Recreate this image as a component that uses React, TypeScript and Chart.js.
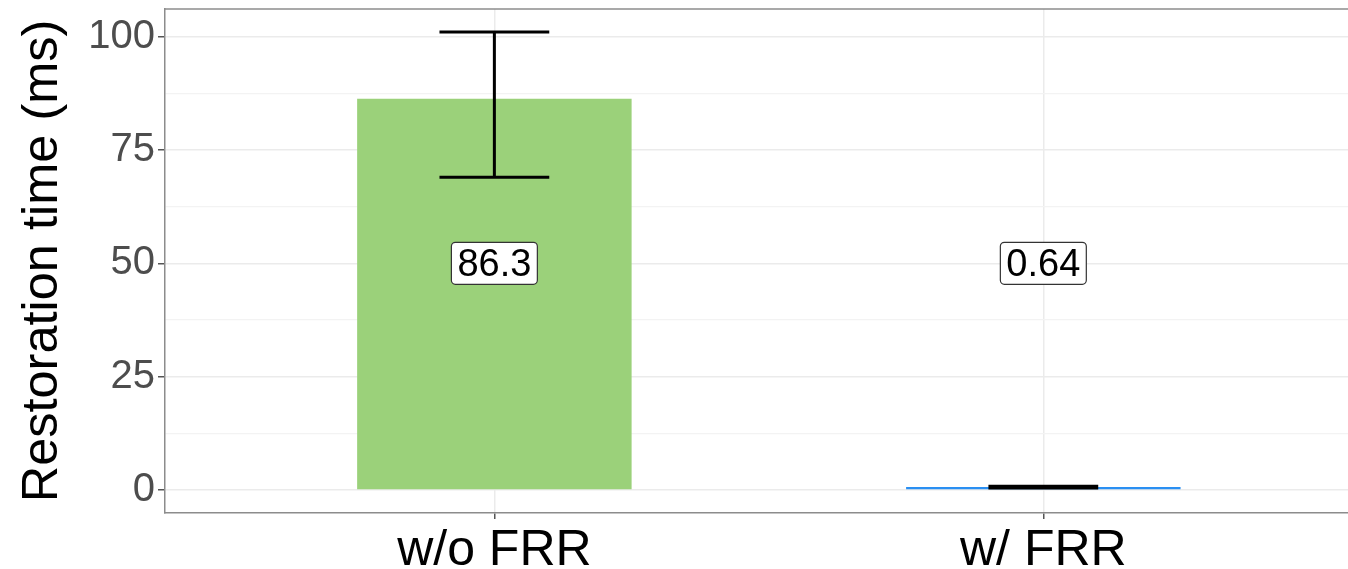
import React, { useEffect, useRef } from "react";
import { Chart, registerables } from "chart.js";

Chart.register(...registerables);

const categories = ["w/o FRR", "w/ FRR"];
const values = [86.3, 0.64];
const errLow = [69.0, 0.45];
const errHigh = [101.0, 0.85];
const barColors = ["#9bd17a", "#2a8ff2"];
const yTicks = [0, 25, 50, 75, 100];
const yMinorTicks = [12.5, 37.5, 62.5, 87.5];
const labelY = 50;

const FONT = "'Liberation Sans', Arial, Helvetica, sans-serif";

export default function App() {
  const ref = useRef<HTMLCanvasElement | null>(null);

  useEffect(() => {
    if (!ref.current) return;
    const positions = categories.map((_, i) => i + 1);

    const panelPlugin = {
      id: "panelExtras",
      afterDatasetsDraw(chart: any) {
        const { ctx, chartArea, scales } = chart;
        const xs = scales.x;
        const ys = scales.y;
        // error bars
        ctx.save();
        ctx.strokeStyle = "#000";
        ctx.lineWidth = 3;
        const halfCap = xs.getPixelForValue(1.1) - xs.getPixelForValue(1.0);
        positions.forEach((p, i) => {
          const x = xs.getPixelForValue(p);
          const yl = ys.getPixelForValue(errLow[i]);
          const yh = ys.getPixelForValue(errHigh[i]);
          ctx.beginPath();
          ctx.moveTo(x, yl);
          ctx.lineTo(x, yh);
          ctx.moveTo(x - halfCap, yl);
          ctx.lineTo(x + halfCap, yl);
          ctx.moveTo(x - halfCap, yh);
          ctx.lineTo(x + halfCap, yh);
          ctx.stroke();
        });
        ctx.restore();
        // labels
        ctx.save();
        ctx.font = `38px ${FONT}`;
        ctx.textAlign = "center";
        ctx.textBaseline = "middle";
        positions.forEach((p, i) => {
          const x = xs.getPixelForValue(p);
          const y = ys.getPixelForValue(labelY);
          const txt = String(values[i]);
          const w = ctx.measureText(txt).width + 12;
          const h = 42;
          ctx.beginPath();
          if ((ctx as any).roundRect) {
            (ctx as any).roundRect(x - w / 2, y - h / 2, w, h, 4);
          } else {
            ctx.rect(x - w / 2, y - h / 2, w, h);
          }
          ctx.fillStyle = "#ffffff";
          ctx.fill();
          ctx.strokeStyle = "#333333";
          ctx.lineWidth = 1.2;
          ctx.stroke();
          ctx.fillStyle = "#000000";
          ctx.fillText(txt, x, y + 2);
        });
        ctx.restore();
        // top border
        ctx.save();
        ctx.strokeStyle = "#8c8c8c";
        ctx.lineWidth = 1.5;
        ctx.beginPath();
        ctx.moveTo(chartArea.left, chartArea.top);
        ctx.lineTo(chartArea.right, chartArea.top);
        ctx.stroke();
        ctx.restore();
      },
    };

    const chart = new Chart(ref.current, {
      type: "bar",
      data: {
        datasets: [
          {
            data: positions.map((p, i) => ({ x: p, y: values[i] })),
            backgroundColor: barColors,
            borderWidth: 0,
            barPercentage: 0.5,
            categoryPercentage: 1,
          },
        ],
      },
      options: {
        animation: false,
        responsive: false,
        layout: { padding: { top: 9, right: 0, left: 0, bottom: 0 } },
        plugins: { legend: { display: false }, tooltip: { enabled: false } },
        scales: {
          x: {
            type: "linear",
            min: 0.4,
            max: 2.555,
            offset: false,
            afterBuildTicks: (scale: any) => {
              scale.ticks = positions.map((v) => ({ value: v }));
            },
            afterFit: (scale: any) => {
              scale.height = 56;
              scale.paddingLeft = 0;
              scale.paddingRight = 0;
            },
            ticks: {
              autoSkip: false,
              maxRotation: 0,
              padding: 2,
              color: "#000",
              font: { family: FONT, size: 50 },
              callback: (v: any) => categories[Number(v) - 1] ?? "",
            },
            grid: {
              offset: false,
              color: "#ebebeb",
              lineWidth: 1.5,
              tickLength: 6,
              tickColor: "#555",
            },
            border: { display: true, color: "#8c8c8c", width: 1.5 },
          },
          y: {
            type: "linear",
            min: -5.07,
            max: 106.1,
            afterBuildTicks: (scale: any) => {
              scale.ticks = [...yTicks, ...yMinorTicks]
                .sort((a, b) => a - b)
                .map((v) => ({ value: v }));
            },
            afterFit: (scale: any) => {
              scale.width = 165;
              scale.paddingTop = 0;
              scale.paddingBottom = 0;
            },
            ticks: {
              autoSkip: false,
              padding: 3,
              color: "#4d4d4d",
              font: { family: FONT, size: 40 },
              callback: (v: any) => (yTicks.includes(Number(v)) ? String(v) : ""),
            },
            grid: {
              color: (c: any) => (yTicks.includes(c.tick?.value) ? "#ebebeb" : "#f3f3f3"),
              lineWidth: (c: any) => (yTicks.includes(c.tick?.value) ? 1.5 : 1.2),
              tickLength: 7,
              tickColor: (c: any) => (yTicks.includes(c.tick?.value) ? "#555" : "rgba(0,0,0,0)"),
            },
            border: { display: true, color: "#8c8c8c", width: 1.5 },
            title: {
              display: true,
              text: "Restoration time (ms)",
              color: "#000",
              font: { family: FONT, size: 50.5 },
              padding: { top: 13, bottom: 0 },
            },
          },
        },
      },
      plugins: [panelPlugin],
    } as any);

    return () => chart.destroy();
  }, []);

  return (
    <div style={{ position: "fixed", left: 0, top: 0, width: 1348, height: 569, background: "#fff" }}>
      <canvas ref={ref} width={1348} height={569} style={{ width: 1348, height: 569 }} />
    </div>
  );
}
